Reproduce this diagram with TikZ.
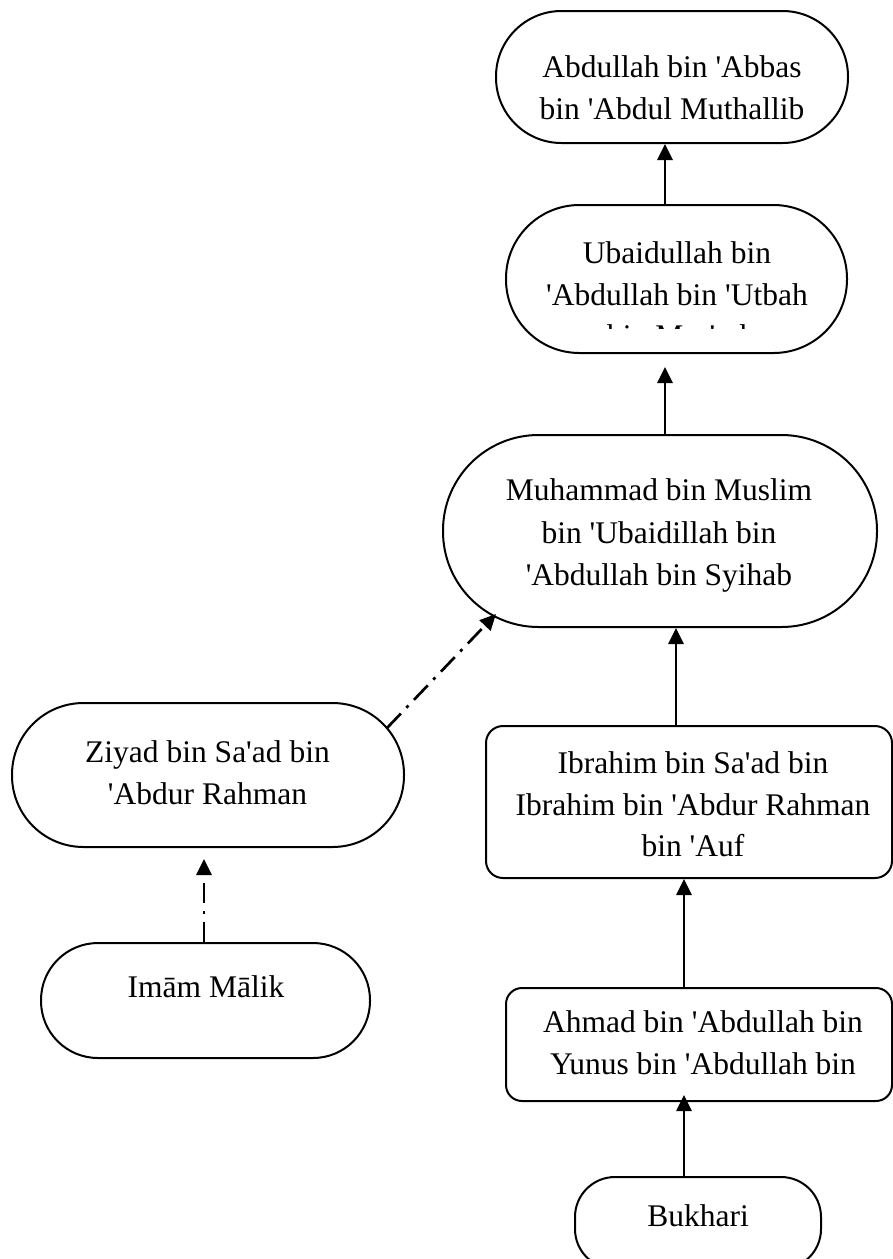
\documentclass[tikz,border=0pt]{standalone}
\usepackage{fontspec}
\setmainfont{Liberation Serif}
\usetikzlibrary{arrows.meta,calc}
\newcommand{\straightq}{\textquotesingle}
\tikzset{
  pill/.style n args={3}{draw, line width=2pt, inner sep=0pt,
    minimum width=#1pt, minimum height=#2pt, rounded corners=#3pt},
  nametext/.style={font=\fontsize{31.5}{41.3}\selectfont, align=center,
    inner sep=0pt, anchor=north},
  conn/.style={line width=2.7pt, -{Triangle[length=16pt,width=15pt]}},
  dashdotconn/.style={conn, dash pattern=on 20pt off 8pt on 3pt off 8pt},
}
\begin{document}
\begin{tikzpicture}[x=1pt,y=-1pt]
\useasboundingbox (0,0) rectangle (893,1259);
\fill[white] (0,0) rectangle (893,1259);

% boxes of the chain
\node[pill={352}{132}{65.5}] (abbas)   at (672,77)     {};
\node[pill={341}{148}{73.5}] (ubaid)   at (676.5,279)  {};
\node[pill={434}{192}{95.5}] (muham)   at (660,531)    {};
\node[pill={406}{152}{17}]   (ibra)    at (689,802)    {};
\node[pill={386}{113}{16}]   (ahmad)   at (699,1044.5) {};
\node[pill={246}{92}{40}]    (bukhari) at (698,1223)   {};
\node[pill={392}{144}{71.5}] (ziyad)   at (208,775)    {};
\node[pill={329}{115}{57}]   (malik)   at (205.5,1000.5) {};

% names
\node[nametext] (abbasT) at (672,55.7)
  {Abdullah bin \straightq Abbas\\bin \straightq Abdul Muthallib};
\begin{scope}
  \clip (506,205) rectangle (847,328.5);
  \node[nametext] (ubaidT) at (677,241.7)
    {Ubaidullah bin\\\straightq Abdullah bin \straightq Utbah\\bin Mas\straightq ud};
\end{scope}
\node[nametext, font=\fontsize{31.5}{42.5}\selectfont] (muhamT) at (659,478.7)
  {Muhammad bin Muslim\\bin \straightq Ubaidillah bin\\\straightq Abdullah bin Syihab};
\node[nametext] (ibraT) at (693,751.7)
  {Ibrahim bin Sa\straightq ad bin\\Ibrahim bin \straightq Abdur Rahman\\bin \straightq Auf};
\node[nametext, font=\fontsize{31.5}{42}\selectfont] (ahmadT) at (703,1010.7)
  {Ahmad bin \straightq Abdullah bin\\Yunus bin \straightq Abdullah bin};
\node[nametext] (bukhariT) at (698,1204.7) {Bukhari};
\node[nametext] (ziyadT) at (207.5,740.7)
  {Ziyad bin Sa\straightq ad bin\\\straightq Abdur Rahman};
\node[nametext] (malikT) at (206,975.7) {Imām Mālik};

% solid links
\draw[conn] (665,0 |- ubaid.north) -- (665,0 |- abbas.south);
\draw[conn, shorten >=13pt] (665,0 |- muham.north) -- (665,0 |- ubaid.south);
\draw[conn] (676,0 |- ibra.north) -- (676,0 |- muham.south);
\draw[conn] (684,0 |- ahmad.north) -- (684,0 |- ibra.south);
\draw[conn, shorten >=-7pt] (684,0 |- bukhari.north) -- (684,0 |- ahmad.south);

% dash-dot links
\coordinate (zyOut) at ($(ziyad.center)+(179,-47)$);
\coordinate (muIn) at ($(muham.center)+(-164,83)$);
\draw[dashdotconn] (zyOut) -- (muIn);
\draw[dashdotconn, shorten >=11pt] (204,0 |- malik.north) -- (204,0 |- ziyad.south);
\end{tikzpicture}
\end{document}
